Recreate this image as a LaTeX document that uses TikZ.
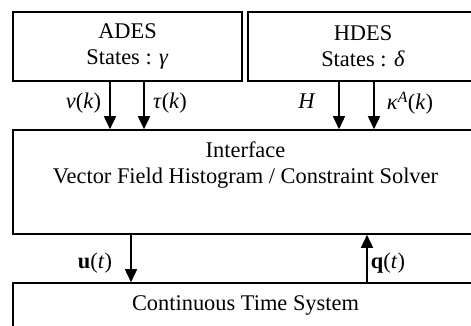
\documentclass[tikz,border=0pt]{standalone}
\usepackage{fontspec}
\setmainfont{Liberation Serif}
\usetikzlibrary{arrows.meta}
\tikzstyle{block}=[rectangle,draw=black,line width=1.6pt,align=center,inner sep=0pt]
\tikzstyle{sig}=[-{Triangle[width=12pt,length=13pt]},line width=1.6pt]
\tikzstyle{lbl}=[inner sep=0pt]

\begin{document}
\begin{tikzpicture}[x=1pt,y=-1pt,font=\fontsize{22.4}{26}\selectfont]
	\useasboundingbox (0,0) rectangle (471,326);
	\clip (0,0) rectangle (471,326);

	% the two event systems on top
	\node[block,minimum width=229pt,minimum height=69pt] (ades) at (127.5,46.5)
		{ADES\\States : \textit{γ}};
	\node[block,minimum width=230pt,minimum height=69pt] (hdes) at (363,46.5)
		{HDES\\States : \textit{δ}};
	\node[block,minimum width=465pt,minimum height=104pt,text depth=39pt] (iface) at (245.5,182)
		{Interface\\Vector Field Histogram / Constraint Solver};
	\node[block,minimum width=465pt,minimum height=60pt,text depth=20pt] (cts) at (245.5,313)
		{Continuous Time System};

	\coordinate (c1) at (110,0);
	\coordinate (c2) at (144,0);
	\coordinate (c3) at (339,0);
	\coordinate (c4) at (374,0);
	\coordinate (c5) at (131,0);
	\coordinate (c6) at (367,0);

	\draw[sig] (ades.south -| c1) -- (iface.north -| c1);
	\draw[sig] (ades.south -| c2) -- (iface.north -| c2);
	\draw[sig] (hdes.south -| c3) -- (iface.north -| c3);
	\draw[sig] (hdes.south -| c4) -- (iface.north -| c4);
	\draw[sig] (iface.south -| c5) -- (cts.north -| c5);
	\draw[sig] (cts.north -| c6) -- (iface.south -| c6);

	\node[lbl] (lv) at (83.5,103) {\textit{v}(\textit{k})};
	\node[lbl] (ltau) at (170,103) {\textit{τ}(\textit{k})};
	\node[lbl] (lh) at (307,101.5) {\textit{H}};
	\node[lbl] (lkappa) at (410,103) {\textit{κ}\textsuperscript{\textit{A}}(\textit{k})};
	\node[lbl] (lu) at (95,263.5) {\textbf{u}(\textit{t})};
	\node[lbl] (lq) at (388,263.5) {\textbf{q}(\textit{t})};
\end{tikzpicture}
\end{document}
